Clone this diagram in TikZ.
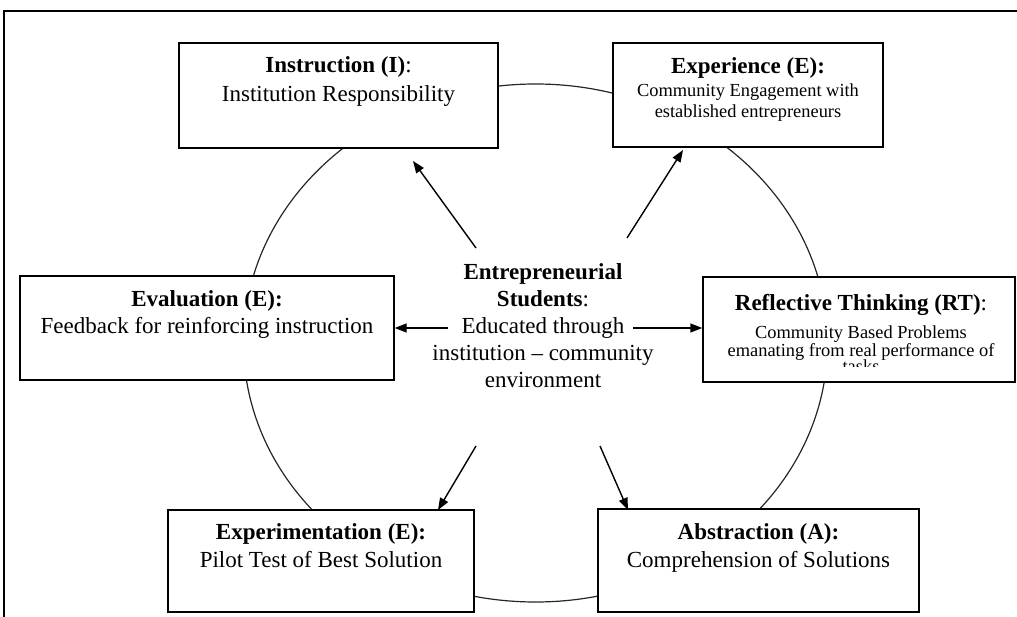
\documentclass[tikz,border=0pt]{standalone}
\usepackage{fontspec}
\setmainfont{Liberation Serif}
\usetikzlibrary{arrows.meta}
\begin{document}
\begin{tikzpicture}[x=1pt,y=-1pt,
  box/.style={draw, line width=1.4pt, fill=white, inner sep=0pt},
  big/.style={anchor=base, inner sep=0pt, font=\fontsize{23}{27}\selectfont},
  small/.style={anchor=base, inner sep=0pt, font=\fontsize{18.4}{21}\selectfont},
  arr/.style={-{Triangle[length=12pt,width=9pt]}, line width=1.4pt},
  ring/.style={line width=1.2pt, draw=black!85}]
\useasboundingbox (0,0) rectangle (1017,617);

% outer frame
\draw[line width=2pt] (4,617) -- (4,11) -- (1017,11);

% cycle
\draw[ring] (535.5,343) ellipse [x radius=292, y radius=259];

% boxes
\node[box, minimum width=319pt, minimum height=105pt] (instr) at (338.5,95.5) {};
\node[box, minimum width=270pt, minimum height=104pt] (exper) at (748,95) {};
\node[box, minimum width=374pt, minimum height=104pt] (eval)  at (207,328) {};
\node[box, minimum width=312pt, minimum height=105pt] (refl)  at (859,329.5) {};
\node[box, minimum width=306pt, minimum height=102pt] (expm)  at (321,561) {};
\node[box, minimum width=321pt, minimum height=103pt] (abstr) at (758.5,560.5) {};

% box texts
\node[big] (instr-h) at (338.5,73) {\textbf{Instruction (I)}:};
\node[big] (instr-1) at (338.5,102) {Institution Responsibility};

\node[big] (exper-h) at (748,74) {\textbf{Experience (E):}};
\node[small] (exper-1) at (748,97) {Community Engagement with};
\node[small] (exper-2) at (748,118) {established entrepreneurs};

\node[big] (eval-h) at (207,307) {\textbf{Evaluation (E):}};
\node[big] (eval-1) at (207,334) {Feedback for reinforcing instruction};

\node[big] (refl-h) at (861,311) {\textbf{Reflective Thinking (RT)}:};
\begin{scope}
  % the last line is cut off by the text area
  \clip (704,278) rectangle (1014,367);
  \node[small] (refl-1) at (861,339) {Community Based Problems};
  \node[small] (refl-2) at (861,356) {emanating from real performance of};
  \node[small] (refl-3) at (861,373) {tasks};
\end{scope}

\node[big] (expm-h) at (321,539) {\textbf{Experimentation (E):}};
\node[big] (expm-1) at (321,567) {Pilot Test of Best Solution};

\node[big] (abstr-h) at (758.5,539) {\textbf{Abstraction (A):}};
\node[big] (abstr-1) at (758.5,567) {Comprehension of Solutions};

% centre
\node[big] (c1) at (543,280) {\textbf{Entrepreneurial}};
\node[big] (c2) at (543,307) {\textbf{Students}:};
\node[big] (c3) at (543,334) {Educated through};
\node[big] (c4) at (543,360) {institution -- community};
\node[big] (c5) at (543,387) {environment};

% arrow tails and free heads
\coordinate (tL) at (448,328);
\coordinate (tR) at (633,328);
\coordinate (tI) at (476,248);
\coordinate (hI) at (413,161);
\coordinate (tX) at (627,238);
\coordinate (hX) at (683,150);
\coordinate (tM) at (476,446);
\coordinate (hM) at (438,510);
\coordinate (tA) at (600,446);
\coordinate (hA) at (628,510);

\draw[arr] (tL) -- (eval.east |- tL);
\draw[arr] (tR) -- (refl.west |- tR);
\draw[arr] (tI) -- (hI);
\draw[arr] (tX) -- (hX);
\draw[arr] (tM) -- (hM);
\draw[arr] (tA) -- (hA);
\end{tikzpicture}
\end{document}
